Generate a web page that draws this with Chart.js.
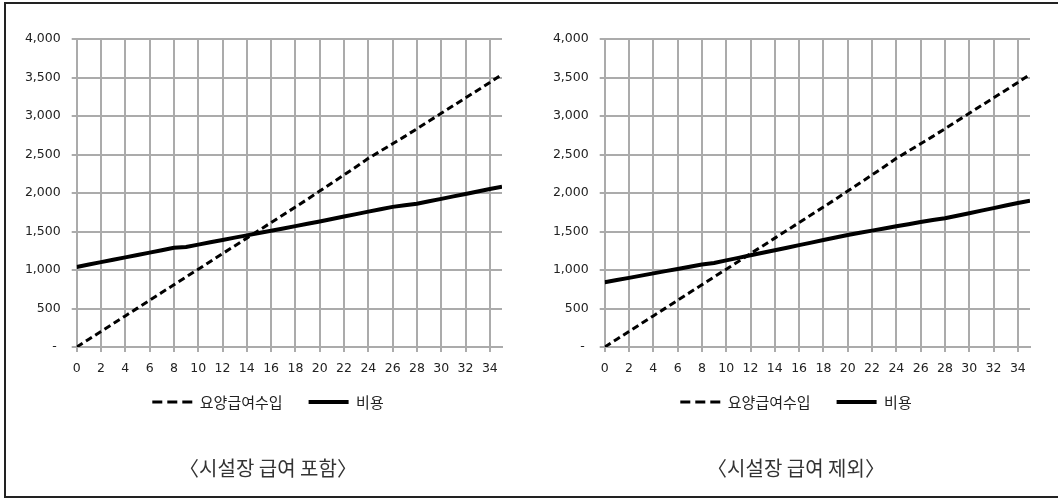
<!DOCTYPE html>
<html><head><meta charset="utf-8">
<script src="https://cdn.jsdelivr.net/npm/chart.js@4.4.1/dist/chart.umd.min.js"></script>
<style>
html,body{margin:0;padding:0;background:#fff;width:1058px;height:498px;overflow:hidden;}
#frame{position:absolute;left:4px;top:2px;width:1100px;height:496px;box-sizing:border-box;border:2px solid #222;}
.wrap{position:absolute;top:0;width:529px;height:498px;}
canvas{display:block;}
</style></head>
<body>
<div id="frame"></div>
<div class="wrap" style="left:0"><canvas id="c1" width="529" height="498"></canvas></div>
<div class="wrap" style="left:528px"><canvas id="c2" width="529" height="498"></canvas></div>
<script>
// ---- data ----
const periods = [0,1,2,3,4,5,6,7,8,9,10,11,12,13,14,15,16,17,18,19,20,21,22,23,24,25,26,27,28,29,30,31,32,33,34,35];
const revenueIncl = [0,101,202,303,404,505,606,707,808,909,1010,1111,1212,1313,1414,1515,1616,1717,1818,1920,2025,2130,2235,2340,2450,2545,2640,2735,2835,2935,3035,3135,3235,3335,3435,3540];
const costIncl = [1040,1071,1102,1133,1164,1195,1226,1257,1288,1300,1330,1360,1390,1420,1450,1480,1510,1540,1570,1600,1630,1662,1694,1726,1758,1790,1820,1840,1860,1892,1924,1956,1988,2020,2052,2080];
const revenueExcl = [0,101,202,303,404,505,606,707,808,909,1010,1111,1212,1313,1414,1515,1616,1717,1818,1920,2025,2130,2235,2340,2450,2545,2640,2735,2835,2935,3035,3135,3235,3335,3435,3540];
const costExcl = [840,869,898,927,956,985,1014,1043,1072,1090,1125,1158,1191,1224,1257,1290,1323,1356,1389,1422,1455,1483,1511,1539,1567,1595,1623,1650,1672,1705,1738,1771,1804,1837,1870,1900];
const seriesNames = ['요양급여수입','비용'];
const chartTitles = ['〈시설장 급여 포함〉','〈시설장 급여 제외〉'];
const yTickValues = [0,500,1000,1500,2000,2500,3000,3500,4000];

const GRID = '#ababab';
const TXT = '#222';
function fmt(v){ return v === 0 ? '- ' : String(v).replace(/\B(?=(\d{3})+(?!\d))/g, ','); }

const unclipAxes = { id:'unclipAxes', afterLayout(chart){ chart.scales.y.left = 0; chart.scales.x.bottom = chart.height; } };

function makeChart(id, rev, cost, title){
  const pts = arr => periods.map((p,i)=>({x:p, y:arr[i]}));
  new Chart(document.getElementById(id), {
    type:'line',
    data:{datasets:[
      {label:seriesNames[0], data:pts(rev), borderColor:'#000', backgroundColor:'#000', borderWidth:3, borderDash:[7,4], pointRadius:0, tension:0, fill:false},
      {label:seriesNames[1], data:pts(cost), borderColor:'#000', backgroundColor:'#000', borderWidth:4, pointRadius:0, tension:0, fill:false}
    ]},
    plugins:[unclipAxes],
    options:{
      responsive:false, animation:false, devicePixelRatio:1,
      layout:{padding:{left:34, right:27, top:39, bottom:0}},
      scales:{
        x:{type:'linear', min:0, max:35,
          afterFit:s=>{s.height=21.5;},
          ticks:{stepSize:2, includeBounds:false, autoSkip:false, maxRotation:0, padding:9, color:TXT, font:{family:'DejaVu Sans', size:12.5}},
          grid:{color:GRID, lineWidth:2, tickLength:5, drawTicks:true},
          border:{color:GRID, width:2}
        },
        y:{min:0, max:4000,
          afterFit:s=>{s.width=42.7;},
          afterBuildTicks:s=>{s.ticks = yTickValues.map(v=>({value:v}));},
          ticks:{callback:v=>fmt(v), padding:11, color:TXT, font:{family:'DejaVu Sans', size:12.5}},
          grid:{color:GRID, lineWidth:2, tickLength:5},
          border:{color:GRID, width:2}
        }
      },
      plugins:{
        legend:{position:'bottom', labels:{usePointStyle:true, pointStyle:'line', pointStyleWidth:40, padding:26, color:TXT, font:{family:'Noto Sans CJK KR', size:15},
          generateLabels:chart=>chart.data.datasets.map((ds,i)=>({
            text:ds.label, fillStyle:'#000', strokeStyle:'#000', fontColor:TXT,
            lineWidth:ds.borderWidth, lineDash:ds.borderDash ? [10,5] : [], lineCap:'butt',
            pointStyle:'line', hidden:false, datasetIndex:i
          }))
        }},
        title:{display:true, position:'bottom', text:title, color:'#333', font:{family:'Noto Sans CJK KR', size:20, weight:'normal'}, padding:{top:36.5, bottom:18}},
        tooltip:{enabled:false}
      }
    }
  });
}
makeChart('c1', revenueIncl, costIncl, chartTitles[0]);
makeChart('c2', revenueExcl, costExcl, chartTitles[1]);
</script>
</body></html>
